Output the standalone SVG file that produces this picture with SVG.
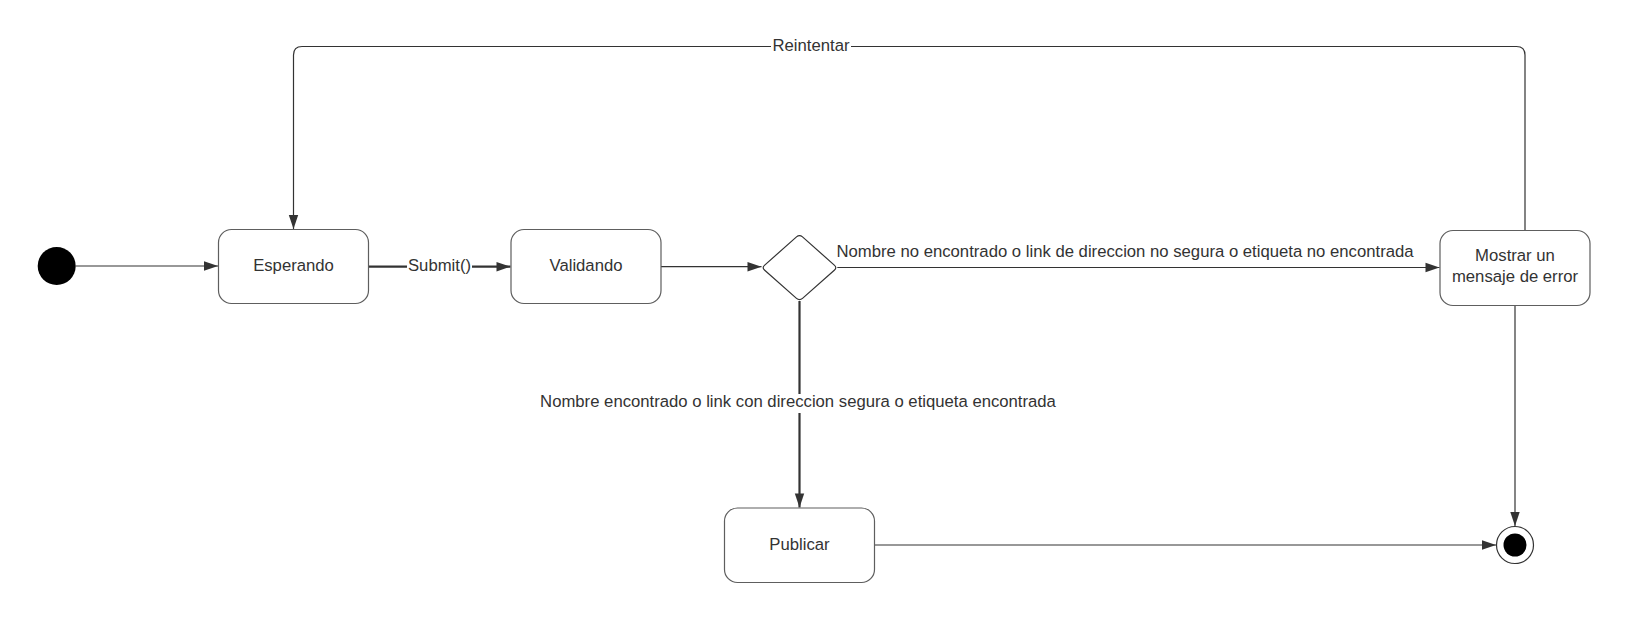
<svg xmlns="http://www.w3.org/2000/svg" width="1627" height="620" viewBox="0 0 1627 620">
<style>
.node{fill:#ffffff;stroke:#5e5e5e;stroke-width:1.2}
.lbl{font-family:"Liberation Sans",Arial,sans-serif;font-size:16.7px;fill:#333333}
.c{text-anchor:middle}
.edge{fill:none;stroke:#333333;stroke-width:1.2}
.thick{stroke-width:2.2}
</style>
<defs>
<marker id="arr" markerUnits="userSpaceOnUse" markerWidth="15" markerHeight="10" refX="14" refY="4.7" orient="auto" overflow="visible">
<path d="M0,0 L14,4.7 L0,9.4 z" fill="#333333"/>
</marker>
</defs>
<rect width="1627" height="620" fill="#ffffff"/>

<g id="connectors">
<path class="edge" d="M75.7,266 H218" marker-end="url(#arr)"/>
<path class="edge thick" d="M368.5,266.7 H408"/>
<path class="edge thick" d="M471,266.7 H510.5" marker-end="url(#arr)"/>
<path class="edge" d="M661,266.7 H761.5" marker-end="url(#arr)"/>
<path class="edge" d="M837.3,267.5 H1439.5" marker-end="url(#arr)"/>
<path class="edge thick" d="M799.5,301 V394"/>
<path class="edge thick" d="M799.5,413 V507.5" marker-end="url(#arr)"/>
<path class="edge" d="M1525,230 V55 Q1525,46.5 1516.5,46.5 H302 Q293.5,46.5 293.5,55 V229" marker-end="url(#arr)"/>
<path class="edge" d="M1515,305.5 V526" marker-end="url(#arr)"/>
<path class="edge" d="M874.5,545 H1496" marker-end="url(#arr)"/>
<rect x="771" y="38" width="80" height="17" fill="#ffffff"/>
<text class="lbl c" x="811" y="51">Reintentar</text>
<rect x="407" y="255" width="65" height="19" fill="#ffffff"/>
<text class="lbl c" x="439.5" y="271">Submit()</text>
<text class="lbl" x="836.5" y="257.3">Nombre no encontrado o link de direccion no segura o etiqueta no encontrada</text>
<text class="lbl c" x="798" y="407.3">Nombre encontrado o link con direccion segura o etiqueta encontrada</text>
</g>

<g id="start">
<circle cx="56.7" cy="266" r="19" fill="#000000"/>
</g>

<g id="esperando">
<rect class="node" x="218.5" y="229.5" width="150" height="74" rx="13"/>
<text class="lbl c" x="293.5" y="270.7">Esperando</text>
</g>

<g id="validando">
<rect class="node" x="511" y="229.5" width="150" height="74" rx="13"/>
<text class="lbl c" x="586" y="270.7">Validando</text>
</g>

<g id="decision">
<path class="node" style="stroke:#333333" d="M796.5,236.9 Q799.5,234.3 802.5,236.9 L834.3,265.1 Q837.3,267.7 834.3,270.3 L802.5,298.4 Q799.5,301 796.5,298.4 L764.7,270.3 Q761.7,267.7 764.7,265.1 Z"/>
</g>

<g id="mostrar">
<rect class="node" x="1440" y="230.5" width="150" height="75" rx="13"/>
<text class="lbl c" x="1515" y="261">Mostrar un</text>
<text class="lbl c" x="1515" y="281.7">mensaje de error</text>
</g>

<g id="publicar">
<rect class="node" x="724.5" y="508" width="150" height="74.5" rx="13"/>
<text class="lbl c" x="799.5" y="549.5">Publicar</text>
</g>

<g id="end">
<circle cx="1515" cy="545" r="18.5" fill="#ffffff" stroke="#333333" stroke-width="1.2"/>
<circle cx="1515" cy="545" r="11.5" fill="#000000"/>
</g>
</svg>
